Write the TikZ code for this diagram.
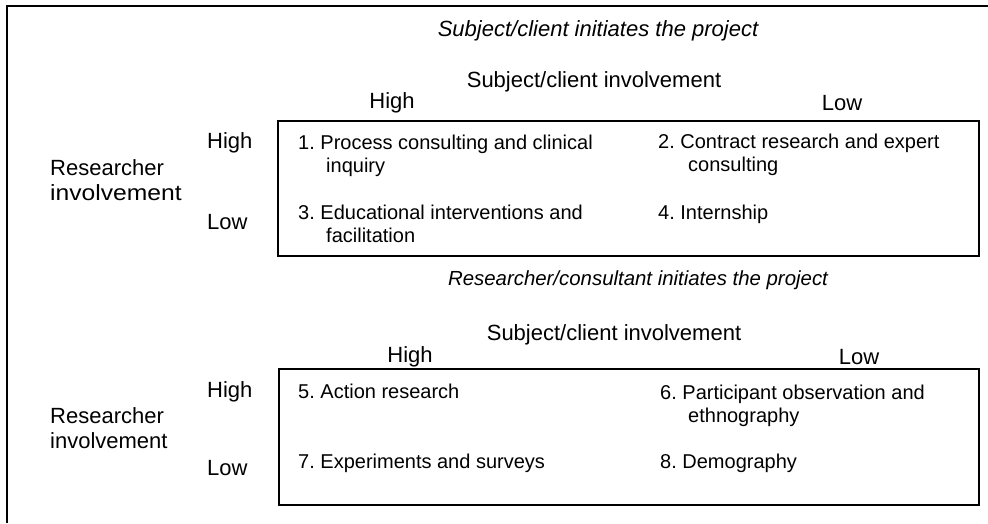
\documentclass[tikz,border=0pt]{standalone}
\usepackage{fontspec}
\setmainfont{Liberation Sans}
\usepackage{tikz}
\usetikzlibrary{calc}

\begin{document}
\begin{tikzpicture}[x=1pt,y=1pt,
  lab/.style={font=\fontsize{22}{25}\selectfont,inner sep=0pt},
  ttl/.style={font=\fontsize{22}{25}\selectfont\itshape,inner sep=0pt},
  cell/.style={font=\fontsize{20}{23}\selectfont,anchor=north west,inner sep=0pt,align=left},
  quad/.style={draw,line width=1.8pt}]
\useasboundingbox (0,0) rectangle (988,-523);
\fill[white] (0,0) rectangle (988,-523);
\draw[line width=1.8pt] (7,-523) -- (7,-6) -- (988,-6);
% subject/client initiates
\node (ttl1) at (598,-31) [ttl]{Subject/client initiates the project};
\node (hd1) at (594,-82) [lab]{Subject/client involvement};
\node (ch1) at (392,-103) [lab]{High};
\node (cl1) at (842,-103) [lab]{Low};
\draw[quad] (278,-121) rectangle (979,-256);
\node (res1) at (50,-180) [lab,anchor=west,align=left]{Researcher\\\scalebox{1.12}[1]{involvement}};
\node (q1) at (298,-135) [cell]{1.~Process consulting and clinical\\\hspace*{1.4em}inquiry};
\node (q2) at (658,-134) [cell]{2.~Contract research and expert\\\hspace*{1.5em}consulting};
\node (q3) at (298,-205) [cell]{3.~Educational interventions and\\\hspace*{1.4em}facilitation};
\node (q4) at (658,-205) [cell]{4.~Internship};
% researcher/consultant initiates
\node (ttl2) at (638,-280) [ttl,font=\fontsize{20.4}{24}\selectfont\itshape]{Researcher/consultant initiates the project};
\node (hd2) at (614,-335) [lab]{Subject/client involvement};
\node (ch2) at (410,-357) [lab]{High};
\node (cl2) at (859,-357) [lab]{Low};
\draw[quad] (279,-369) rectangle (979,-505);
\node (res2) at (50,-428) [lab,anchor=west,align=left]{Researcher\\involvement};
\node (q5) at (298,-384) [cell]{5.~Action research};
\node (q6) at (660,-385) [cell]{6.~Participant observation and\\\hspace*{1.4em}ethnography};
\node (q7) at (298,-454) [cell]{7.~Experiments and surveys};
\node (q8) at (660,-454) [cell]{8.~Demography};
\foreach \y/\t/\n in {143/High/rh1,222/Low/rl1,392/High/rh2,468/Low/rl2}{ \node (\n) at (207,-\y) [lab,anchor=west]{\t}; }
\end{tikzpicture}
\end{document}
